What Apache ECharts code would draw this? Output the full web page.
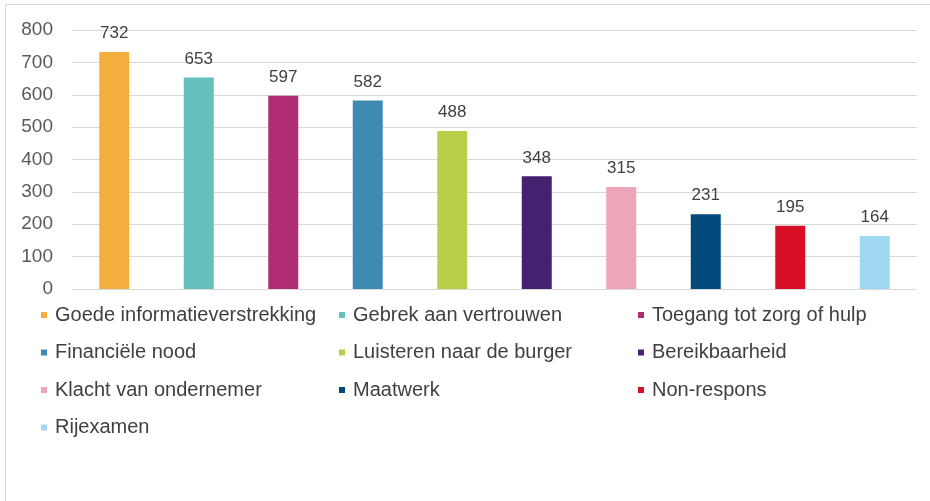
<!DOCTYPE html>
<html lang="nl">
<head>
    <meta charset="UTF-8">
    <title>Klachten per onderwerp</title>
    <script src="https://cdn.jsdelivr.net/npm/echarts@6/dist/echarts.min.js"></script>
    <style>
        html, body { margin: 0; padding: 0; background: #fff; }
        #container { width: 930px; height: 501px; }
    </style>
</head>
<body>
<div id="container"></div>
<script>
    // data
    var categories = ['Goede informatieverstrekking', 'Gebrek aan vertrouwen', 'Toegang tot zorg of hulp',
        'Financiële nood', 'Luisteren naar de burger', 'Bereikbaarheid',
        'Klacht van ondernemer', 'Maatwerk', 'Non-respons', 'Rijexamen'];
    var values = [732, 653, 597, 582, 488, 348, 315, 231, 195, 164];
    var colors = ['#F5AF3F', '#66C1BD', '#B02C74', '#3F8AB0', '#B9CE4B', '#45216F',
        '#EEA5B7', '#024A7C', '#D60F26', '#A0D7F3'];
    var yTicks = [0, 100, 200, 300, 400, 500, 600, 700, 800];

    var dom = document.getElementById('container');
    var myChart = echarts.init(dom);

    var series = [];
    var legends = [];
    var colLeft = [36, 334, 633];
    var rowTop = [300, 337.5, 375, 412.5];
    for (var i = 0; i < categories.length; i++) {
        var d = [];
        for (var j = 0; j < categories.length; j++) {
            d.push(j === i ? values[i] : '-');
        }
        series.push({
            name: categories[i],
            type: 'bar',
            stack: 'all',
            barWidth: 30,
            data: d,
            itemStyle: { color: colors[i] },
            label: {
                show: true,
                position: 'top',
                distance: 10,
                fontFamily: 'Liberation Sans',
                fontSize: 17,
                color: '#404040'
            }
        });
        legends.push({
            data: [categories[i]],
            left: colLeft[i % 3],
            top: rowTop[Math.floor(i / 3)],
            icon: 'rect',
            itemWidth: 6,
            itemHeight: 6,
            selectedMode: false,
            textStyle: {
                fontFamily: 'Liberation Sans',
                fontSize: 20,
                color: '#404040',
                padding: [0, 0, 0, 3]
            }
        });
    }

    option = {
        backgroundColor: '#fff',
        animation: false,
        grid: { left: 72, right: 13, top: 30, bottom: 212 },
        legend: legends,
        xAxis: {
            type: 'category',
            data: categories,
            axisLine: { lineStyle: { color: '#d9d9d9' } },
            axisTick: { show: false },
            axisLabel: { show: false }
        },
        yAxis: {
            type: 'value',
            min: yTicks[0],
            max: yTicks[yTicks.length - 1],
            interval: 100,
            axisLine: { show: false },
            axisTick: { show: false },
            splitLine: { lineStyle: { color: '#d9d9d9' } },
            axisLabel: {
                fontFamily: 'Liberation Sans',
                fontSize: 19,
                color: '#595959',
                margin: 19
            }
        },
        graphic: [{
            type: 'polyline',
            shape: { points: [[935, 4.5], [5.5, 4.5], [5.5, 505]] },
            style: { stroke: '#d9d9d9', fill: null, lineWidth: 1 },
            silent: true
        }],
        series: series
    };

    myChart.setOption(option);
</script>
</body>
</html>
